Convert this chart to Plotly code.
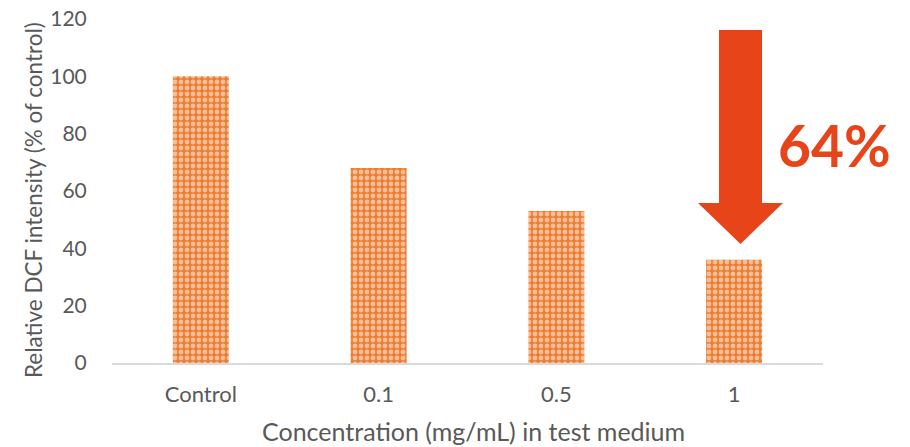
import plotly.graph_objects as go

categories = ["Control", "0.1", "0.5", "1"]
values = [100, 68, 53, 36]
y_ticks = [0, 20, 40, 60, 80, 100, 120]

bar_color = "#ED7D31"
arrow_color = "#E8441A"
text_color = "#595959"
font_family = "Lato"

W, H = 910, 447
OFF = 8  # page body margin offset
# target plot area on the page
PL, PR, PT, PB = 112, 823, 19, 363

fig = go.Figure()
fig.add_trace(go.Bar(
    x=categories, y=values,
    marker=dict(
        color=bar_color,
        line=dict(width=0),
        pattern=dict(shape=".", fgcolor="white", bgcolor=bar_color, size=6, solidity=0.5),
    ),
    width=0.315,
))

def px(x):
    return (x - PL) / (PR - PL)

def py(y):
    return 1 - (y - PT) / (PB - PT)

pts = [(719, 30), (762, 30), (762, 203), (783, 203), (740.5, 244), (698, 203), (719, 203)]
path = "M " + " L ".join(f"{px(x):.5f},{py(y):.5f}" for x, y in pts) + " Z"
fig.add_shape(type="path", path=path, xref="paper", yref="paper",
              fillcolor=arrow_color, line=dict(width=0))

fig.add_annotation(text="<b>64%</b>", x=px(834), y=py(145), xref="paper", yref="paper",
                   showarrow=False, font=dict(family=font_family, size=57, color=arrow_color),
                   xanchor="center", yanchor="middle")

# axis titles as annotations for precise placement
fig.add_annotation(text="Relative DCF intensity (% of control)", x=px(33), y=py(200),
                   xref="paper", yref="paper", showarrow=False, textangle=-90,
                   font=dict(family=font_family, size=22.5, color=text_color),
                   xanchor="center", yanchor="middle")
fig.add_annotation(text="Concentration (mg/mL) in test medium", x=px(473), y=py(431),
                   xref="paper", yref="paper", showarrow=False,
                   font=dict(family=font_family, size=25, color=text_color),
                   xanchor="center", yanchor="middle")

fig.update_layout(
    width=W, height=H,
    margin=dict(l=PL - OFF, r=W - (PR - OFF), t=PT - OFF, b=H - (PB - OFF), autoexpand=False),
    paper_bgcolor="white", plot_bgcolor="white",
    showlegend=False,
    font=dict(family=font_family, color=text_color),
    bargap=0.685,
)
fig.update_xaxes(
    automargin=False,
    showgrid=False, showline=True, linecolor="#D9D9D9", linewidth=1.5,
    ticks="outside", ticklen=11, tickcolor="rgba(0,0,0,0)",
    tickfont=dict(size=22, color=text_color),
)
fig.update_yaxes(
    automargin=False,
    range=[0, 120], tickvals=y_ticks, showgrid=False, showline=False, zeroline=False,
    ticks="outside", ticklen=20, tickcolor="rgba(0,0,0,0)",
    ticklabeloverflow="allow",
    tickfont=dict(size=21, color=text_color),
)

fig.write_html("out.html")
